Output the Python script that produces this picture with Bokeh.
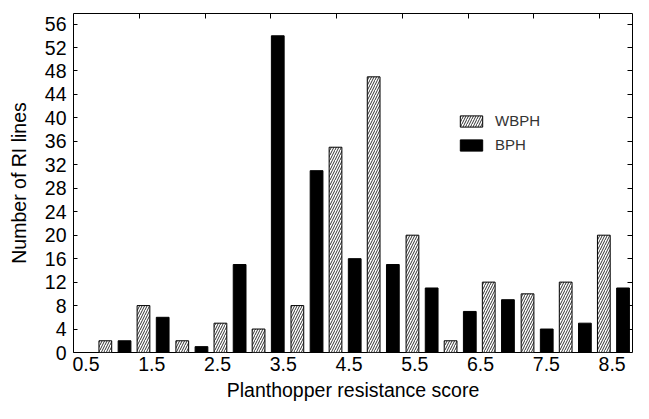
from bokeh.plotting import figure
from bokeh.models import Range1d, LinearAxis, FixedTicker, Legend, LegendItem, ColumnDataSource, CustomJSTickFormatter
from bokeh.transform import dodge
from bokeh.embed import file_html
from bokeh.resources import INLINE

# ---- data ----
score_bins = [1.13, 1.71, 2.30, 2.88, 3.46, 4.05, 4.63, 5.21, 5.80, 6.38, 6.96, 7.55, 8.13, 8.71]
wbph = [2, 8, 2, 5, 4, 8, 35, 47, 20, 2, 12, 10, 12, 20]
bph = [2, 6, 1, 15, 54, 31, 16, 15, 11, 7, 9, 4, 5, 11]
x_ticks = [0.5, 1.5, 2.5, 3.5, 4.5, 5.5, 6.5, 7.5, 8.5]
y_ticks = [0, 4, 8, 12, 16, 20, 24, 28, 32, 36, 40, 44, 48, 52, 56]
series_names = ["WBPH", "BPH"]

FONT = "Liberation Sans"

src = ColumnDataSource(dict(x=score_bins, wbph=wbph, bph=bph))

p = figure(width=633, height=403, output_backend="svg", toolbar_location=None,
           x_range=Range1d(0.5, 9.0), y_range=Range1d(0, 57.8),
           x_axis_location=None, y_axis_location=None,
           min_border_left=73, min_border_right=1, min_border_top=13, min_border_bottom=0)
p.grid.visible = False
p.outline_line_color = "black"
p.outline_line_width = 1
p.background_fill_color = "white"
p.border_fill_color = "white"

p.extra_x_ranges = {"lbl": Range1d(0.5 - 0.19, 9.0 - 0.19)}

r1 = p.vbar(x=dodge("x", -0.146, range=p.x_range), top="wbph", width=0.194, source=src,
            fill_color="white", line_color="black", line_width=1,
            hatch_pattern="/", hatch_color="#333333", hatch_scale=5, hatch_weight=1)
r2 = p.vbar(x=dodge("x", 0.146, range=p.x_range), top="bph", width=0.194, source=src,
            fill_color="black", line_color="black", line_width=1)

blank = CustomJSTickFormatter(code="return ''")

xb = LinearAxis(x_range_name="lbl", ticker=FixedTicker(ticks=x_ticks),
                axis_label="Planthopper resistance score")
xb.major_tick_in = 0
xb.major_tick_out = 0
xb.minor_tick_line_color = None
xb.axis_line_color = None
xb.major_label_standoff = 4
xb.major_label_text_font = FONT
xb.major_label_text_font_size = "19.5px"
xb.major_label_text_color = "black"
xb.axis_label_text_font = FONT
xb.axis_label_text_font_size = "19.5px"
xb.axis_label_text_font_style = "normal"
xb.axis_label_text_color = "black"
xb.axis_label_standoff = 5
p.add_layout(xb, "below")

xt = LinearAxis(ticker=FixedTicker(ticks=x_ticks[1:]), formatter=blank)
xt.major_tick_in = 5
xt.major_tick_out = 0
xt.minor_tick_line_color = None
xt.axis_line_color = None
xt.major_label_standoff = 0
p.add_layout(xt, "above")

yl = LinearAxis(ticker=FixedTicker(ticks=y_ticks), axis_label="Number of RI lines")
yl.major_tick_in = 4
yl.major_tick_out = 0
yl.minor_tick_line_color = None
yl.axis_line_color = None
yl.major_label_standoff = 7
yl.major_label_text_font = FONT
yl.major_label_text_font_size = "19.5px"
yl.major_label_text_color = "black"
yl.axis_label_text_font = FONT
yl.axis_label_text_font_size = "19.5px"
yl.axis_label_text_font_style = "normal"
yl.axis_label_text_color = "black"
yl.axis_label_standoff = 12
p.add_layout(yl, "left")

yr = LinearAxis(ticker=FixedTicker(ticks=y_ticks[1:]), formatter=blank)
yr.major_tick_in = 5
yr.major_tick_out = 0
yr.minor_tick_line_color = None
yr.axis_line_color = None
yr.major_label_standoff = 0
p.add_layout(yr, "right")

legend = Legend(items=[LegendItem(label=series_names[0], renderers=[r1]),
                       LegendItem(label=series_names[1], renderers=[r2])],
                location=(384, 199), orientation="vertical")
legend.border_line_color = None
legend.background_fill_alpha = 0
legend.padding = 0
legend.margin = 0
legend.spacing = 7
legend.glyph_width = 28
legend.glyph_height = 14
legend.label_standoff = 10
legend.label_text_font = FONT
legend.label_text_font_size = "15px"
legend.label_text_color = "#333333"
legend.label_height = 14
p.add_layout(legend, "center")

open("out.html", "w").write(file_html(p, INLINE))
